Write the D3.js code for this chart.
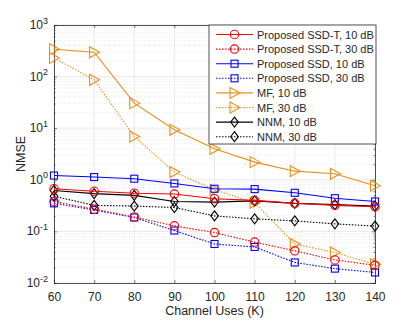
<!DOCTYPE html>
<html lang="en">
<head>
<meta charset="UTF-8">
<title>NMSE vs channel uses</title>
<script src="https://d3js.org/d3.v7.min.js"></script>
<style>
    body { margin: 0; background: #fff; }
    text { font-family: "Liberation Sans", Arial, sans-serif; fill: #262626; }
</style>
</head>
<body>
<div id="chart"></div>
<script>
const channelUses = [60, 70, 80, 90, 100, 110, 120, 130, 140];

const ssdT10 = [0.67, 0.60, 0.55, 0.53, 0.43, 0.40, 0.35, 0.32, 0.30];
const ssdT30 = [0.38, 0.27, 0.19, 0.128, 0.095, 0.062, 0.042, 0.028, 0.022];
const ssd10  = [1.21, 1.13, 1.05, 0.85, 0.67, 0.66, 0.56, 0.44, 0.38];
const ssd30  = [0.35, 0.26, 0.186, 0.104, 0.057, 0.050, 0.025, 0.019, 0.016];
const mf10   = [340, 297, 30.6, 9.3, 4.0, 2.2, 1.47, 1.31, 0.77];
const mf30   = [230, 87, 6.9, 1.41, 0.64, 0.36, 0.057, 0.039, 0.023];
const nnm10  = [0.62, 0.54, 0.50, 0.38, 0.37, 0.39, 0.35, 0.33, 0.31];
const nnm30  = [0.48, 0.32, 0.31, 0.29, 0.20, 0.175, 0.16, 0.14, 0.127];

const xTicks = [60, 70, 80, 90, 100, 110, 120, 130, 140];
const yDecades = [-2, -1, 0, 1, 2, 3];

const series = [
    { name: "Proposed SSD-T, 10 dB", values: ssdT10, color: "#ff0000", dash: null, marker: "circle" },
    { name: "Proposed SSD-T, 30 dB", values: ssdT30, color: "#ff0000", dash: "1.5,1.5", marker: "circle" },
    { name: "Proposed SSD, 10 dB", values: ssd10, color: "#0000ff", dash: null, marker: "square" },
    { name: "Proposed SSD, 30 dB", values: ssd30, color: "#0000ff", dash: "1.5,1.5", marker: "square" },
    { name: "MF, 10 dB", values: mf10, color: "#e8901a", dash: null, marker: "triangle" },
    { name: "MF, 30 dB", values: mf30, color: "#e8901a", dash: "1.5,1.5", marker: "triangle" },
    { name: "NNM, 10 dB", values: nnm10, color: "#000000", dash: null, marker: "diamond" },
    { name: "NNM, 30 dB", values: nnm30, color: "#000000", dash: "1.5,1.5", marker: "diamond" }
];

const width = 415, height = 322;
const margin = { top: 25, right: 40, bottom: 39, left: 54 };
const plotW = width - margin.left - margin.right;
const plotH = height - margin.top - margin.bottom;

const svg = d3.select("#chart").append("svg")
    .attr("width", width)
    .attr("height", height);

const x = d3.scaleLinear().domain([60, 140]).range([0, plotW]);
const y = d3.scaleLog().domain([1e-2, 1e3]).range([plotH, 0]);

const g = svg.append("g").attr("transform", `translate(${margin.left},${margin.top})`);

// minor grid (dotted)
const minorVals = [];
yDecades.slice(0, -1).forEach(d => {
    for (let k = 2; k <= 9; k++) minorVals.push(k * Math.pow(10, d));
});
g.append("g").selectAll("line").data(minorVals).join("line")
    .attr("x1", 0).attr("x2", plotW)
    .attr("y1", d => y(d)).attr("y2", d => y(d))
    .attr("stroke", "#d6d6d6").attr("stroke-width", 0.6)
    .attr("stroke-dasharray", "1,1.5");

// major grid
g.append("g").selectAll("line").data(xTicks).join("line")
    .attr("x1", d => x(d)).attr("x2", d => x(d))
    .attr("y1", 0).attr("y2", plotH)
    .attr("stroke", "#e3e3e3").attr("stroke-width", 0.8);
g.append("g").selectAll("line").data(yDecades).join("line")
    .attr("x1", 0).attr("x2", plotW)
    .attr("y1", d => y(Math.pow(10, d))).attr("y2", d => y(Math.pow(10, d)))
    .attr("stroke", "#e3e3e3").attr("stroke-width", 0.8);

// axes (ticks pointing inward)
const xAxis = g.append("g").attr("transform", `translate(0,${plotH})`)
    .call(d3.axisBottom(x).tickValues(xTicks).tickSize(-3).tickPadding(9).tickFormat(d3.format("d")));
g.append("g")
    .call(d3.axisLeft(y).tickValues(yDecades.map(d => Math.pow(10, d))).tickSize(-3).tickFormat(""));
g.append("g").call(d3.axisLeft(y).tickValues(minorVals).tickSize(-1.5).tickFormat(""))
    .call(a => a.select(".domain").remove());
g.append("g").attr("transform", `translate(${plotW},0)`)
    .call(d3.axisRight(y).tickValues(minorVals).tickSize(-1.5).tickFormat(""))
    .call(a => a.select(".domain").remove());
g.append("g").attr("transform", `translate(${plotW},0)`)
    .call(d3.axisRight(y).tickValues(yDecades.map(d => Math.pow(10, d))).tickSize(-3).tickFormat(""));
g.append("g")
    .call(d3.axisTop(x).tickValues(xTicks).tickSize(-3).tickFormat(""));

g.selectAll(".domain").attr("stroke", "#262626").attr("stroke-width", 0.8);
g.selectAll(".tick line").attr("stroke", "#262626").attr("stroke-width", 0.6);
xAxis.selectAll("text").style("font-size", "12px").style("font-family", "'Liberation Sans', Arial, sans-serif").attr("fill", "#262626");

// y tick labels with superscripts
const yLab = g.append("g");
yDecades.forEach(d => {
    const t = yLab.append("text")
        .attr("x", -6).attr("y", y(Math.pow(10, d)) + 4)
        .attr("text-anchor", "end")
        .style("font-size", "12px");
    t.append("tspan").text("10");
    t.append("tspan").attr("dy", -5.5).style("font-size", "9px").text(d);
});

// lines + markers
const line = d3.line().x((d, i) => x(channelUses[i])).y(d => y(d));

function drawMarker(sel, type, color) {
    if (type === "circle") {
        sel.append("circle").attr("r", 4.2);
    } else if (type === "square") {
        sel.append("rect").attr("x", -3.5).attr("y", -3.5).attr("width", 7).attr("height", 7);
    } else if (type === "triangle") {
        sel.append("path").attr("d", "M-4.5,-5.5L5.5,0L-4.5,5.5Z");
    } else {
        sel.append("path").attr("d", "M0,-5L3.8,0L0,5L-3.8,0Z");
    }
    sel.selectAll("*").attr("fill", "none").attr("stroke", color).attr("stroke-width", 1.1);
}

const plot = g.append("g");
[4, 5, 6, 7, 2, 3, 0, 1].forEach(k => {
    const s = series[k];
    plot.append("path")
        .datum(s.values)
        .attr("d", line)
        .attr("fill", "none")
        .attr("stroke", s.color)
        .attr("stroke-width", 1.1)
        .attr("stroke-dasharray", s.dash);
    s.values.forEach((v, i) => {
        const m = plot.append("g").attr("transform", `translate(${x(channelUses[i])},${y(v)})`);
        drawMarker(m, s.marker, s.color);
    });
});

// axis labels
svg.append("text")
    .attr("x", margin.left + plotW / 2).attr("y", 315)
    .attr("text-anchor", "middle")
    .style("font-size", "12.5px")
    .text("Channel Uses (K)");
svg.append("text")
    .attr("transform", `translate(25,${margin.top + plotH / 2}) rotate(-90)`)
    .attr("text-anchor", "middle")
    .style("font-size", "12.5px")
    .text("NMSE");

// legend
const lg = svg.append("g").attr("transform", "translate(209,25)");
lg.append("rect")
    .attr("width", 167).attr("height", 119)
    .attr("fill", "#fff").attr("stroke", "#262626").attr("stroke-width", 0.8);
series.forEach((s, i) => {
    const row = lg.append("g").attr("transform", `translate(0,${9.5 + i * 14.6})`);
    row.append("line")
        .attr("x1", 7).attr("x2", 44)
        .attr("stroke", s.color).attr("stroke-width", 1.1)
        .attr("stroke-dasharray", s.dash);
    const m = row.append("g").attr("transform", "translate(25.5,0)");
    drawMarker(m, s.marker, s.color);
    row.append("text")
        .attr("x", 48).attr("y", 4)
        .style("font-size", "11px")
        .text(s.name);
});
</script>
</body>
</html>
